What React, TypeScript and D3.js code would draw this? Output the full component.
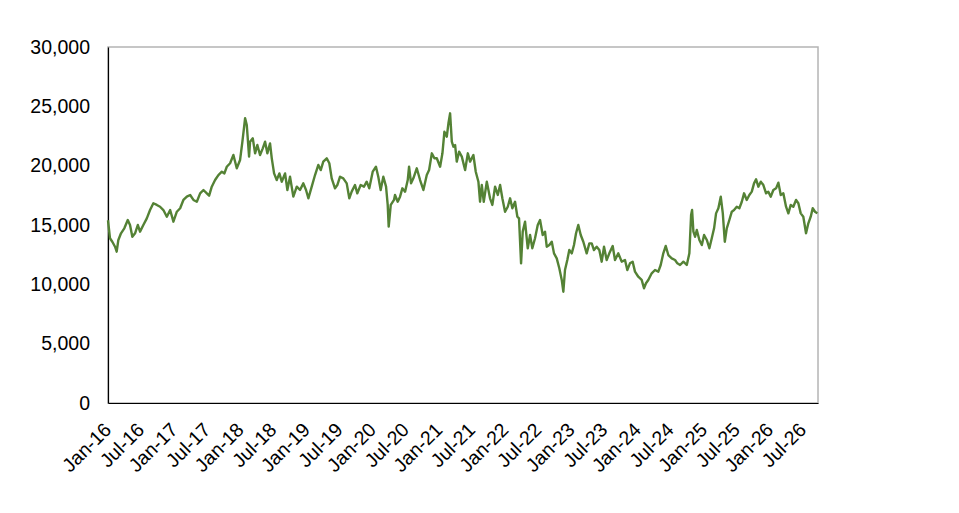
import { useEffect, useRef } from 'react';
import * as d3 from 'd3';

const WIDTH = 959;
const HEIGHT = 513;

// [decimal year, index level]
const SERIES: [number, number][] = [
  [2016.000, 15400], [2016.030, 13880], [2016.065, 13590], [2016.106, 13170], [2016.131, 12750],
  [2016.156, 13740], [2016.196, 14300], [2016.246, 14720], [2016.298, 15420], [2016.332, 15000],
  [2016.367, 14010], [2016.408, 14300], [2016.449, 15000], [2016.483, 14440], [2016.533, 15000],
  [2016.585, 15560], [2016.634, 16260], [2016.684, 16830], [2016.736, 16690], [2016.785, 16540],
  [2016.835, 16260], [2016.887, 15700], [2016.937, 16260], [2016.986, 15280], [2017.038, 16120],
  [2017.088, 16410], [2017.137, 17110], [2017.189, 17390], [2017.239, 17530], [2017.289, 17110],
  [2017.340, 16960], [2017.390, 17670], [2017.440, 17950], [2017.491, 17670], [2017.526, 17470],
  [2017.566, 18230], [2017.616, 18790], [2017.666, 19210], [2017.718, 19490], [2017.757, 19350],
  [2017.793, 19910], [2017.843, 20200], [2017.893, 20900], [2017.944, 19780], [2017.994, 20480],
  [2018.029, 22020], [2018.070, 24000], [2018.095, 23430], [2018.130, 20760], [2018.145, 22020],
  [2018.186, 22300], [2018.221, 21040], [2018.255, 21740], [2018.296, 20900], [2018.337, 21460],
  [2018.372, 22020], [2018.406, 21040], [2018.447, 21880], [2018.473, 20620], [2018.508, 19350],
  [2018.548, 18790], [2018.588, 19350], [2018.624, 18650], [2018.674, 19350], [2018.709, 17950],
  [2018.749, 19070], [2018.799, 17390], [2018.851, 18230], [2018.900, 17950], [2018.950, 18510],
  [2018.991, 17950], [2019.026, 17250], [2019.077, 18230], [2019.127, 19210], [2019.177, 20060],
  [2019.213, 19630], [2019.252, 20340], [2019.304, 20620], [2019.343, 20200], [2019.379, 18930],
  [2019.429, 18090], [2019.464, 18370], [2019.505, 19070], [2019.554, 18930], [2019.606, 18510],
  [2019.645, 17250], [2019.681, 17810], [2019.731, 18370], [2019.766, 17670], [2019.817, 18370],
  [2019.867, 18230], [2019.908, 18650], [2019.947, 18090], [2019.999, 19490], [2020.048, 19910],
  [2020.083, 19070], [2020.119, 17950], [2020.159, 19070], [2020.200, 18230], [2020.225, 16690],
  [2020.240, 14860], [2020.271, 16690], [2020.320, 17110], [2020.335, 17530], [2020.376, 16960],
  [2020.411, 17390], [2020.446, 18090], [2020.487, 17810], [2020.527, 18790], [2020.547, 19910],
  [2020.577, 18510], [2020.612, 18930], [2020.663, 19780], [2020.713, 18790], [2020.763, 17950],
  [2020.814, 19210], [2020.849, 19630], [2020.890, 21040], [2020.929, 20620], [2020.965, 20620],
  [2021.015, 19910], [2021.050, 21040], [2021.080, 22860], [2021.116, 22440], [2021.141, 23570],
  [2021.166, 24410], [2021.192, 22020], [2021.216, 21600], [2021.242, 21740], [2021.267, 20340],
  [2021.302, 21180], [2021.343, 20760], [2021.393, 19630], [2021.434, 21040], [2021.468, 20340],
  [2021.518, 20900], [2021.554, 19490], [2021.594, 18650], [2021.619, 16960], [2021.645, 18370],
  [2021.675, 16960], [2021.721, 18650], [2021.770, 17250], [2021.805, 16690], [2021.846, 18230],
  [2021.887, 17530], [2021.922, 18370], [2021.956, 17250], [2021.997, 16120], [2022.038, 16540],
  [2022.073, 17250], [2022.107, 16410], [2022.148, 16960], [2022.183, 15700], [2022.208, 15560],
  [2022.239, 11770], [2022.264, 14440], [2022.299, 15280], [2022.340, 13040], [2022.375, 14160],
  [2022.409, 13040], [2022.450, 13880], [2022.491, 15000], [2022.526, 15420], [2022.566, 14160],
  [2022.601, 14440], [2022.627, 13170], [2022.666, 13310], [2022.703, 13590], [2022.737, 12610],
  [2022.778, 12190], [2022.817, 11350], [2022.854, 10370], [2022.878, 9380], [2022.903, 11210],
  [2022.938, 12050], [2022.968, 12890], [2023.005, 12610], [2023.039, 13310], [2023.070, 14300],
  [2023.104, 15000], [2023.141, 14160], [2023.180, 13590], [2023.231, 12610], [2023.271, 13450],
  [2023.307, 13450], [2023.341, 12890], [2023.382, 13170], [2023.422, 12890], [2023.458, 11910],
  [2023.493, 13170], [2023.533, 12050], [2023.573, 12610], [2023.624, 13230], [2023.659, 12050],
  [2023.709, 12610], [2023.760, 11910], [2023.810, 12050], [2023.845, 11210], [2023.885, 11770],
  [2023.926, 11910], [2023.961, 11070], [2024.011, 10640], [2024.062, 10370], [2024.097, 9670],
  [2024.127, 10090], [2024.162, 10370], [2024.213, 10930], [2024.263, 11210], [2024.313, 11070],
  [2024.349, 11630], [2024.388, 12610], [2024.425, 13230], [2024.464, 12470], [2024.515, 12190],
  [2024.565, 12050], [2024.600, 11770], [2024.641, 11630], [2024.691, 11910], [2024.742, 11630],
  [2024.781, 12610], [2024.807, 15840], [2024.822, 16260], [2024.842, 14440], [2024.867, 14010],
  [2024.893, 14580], [2024.932, 13740], [2024.969, 13310], [2025.003, 14160], [2025.044, 13740],
  [2025.083, 13040], [2025.119, 13880], [2025.154, 14720], [2025.184, 15980], [2025.219, 16410],
  [2025.255, 17390], [2025.286, 15980], [2025.316, 13590], [2025.346, 14720], [2025.385, 15420],
  [2025.422, 16120], [2025.456, 16260], [2025.497, 16540], [2025.536, 16410], [2025.573, 16960],
  [2025.607, 17670], [2025.648, 17110], [2025.687, 17530], [2025.724, 17810], [2025.758, 18510],
  [2025.789, 18850], [2025.823, 18230], [2025.860, 18650], [2025.899, 18370], [2025.940, 17670],
  [2025.974, 17810], [2026.011, 17390], [2026.050, 17950], [2026.091, 18090], [2026.126, 18570],
  [2026.162, 17530], [2026.201, 17670], [2026.242, 16540], [2026.277, 15980], [2026.313, 16690],
  [2026.352, 16540], [2026.393, 17110], [2026.428, 16830], [2026.464, 15980], [2026.503, 15700],
  [2026.544, 14300], [2026.579, 15140], [2026.615, 15700], [2026.645, 16410], [2026.680, 16120],
  [2026.715, 15980],
];

const Y_TICKS = [0, 5000, 10000, 15000, 20000, 25000, 30000];
const X_TICK_LABELS = [
  'Jan-16', 'Jul-16', 'Jan-17', 'Jul-17', 'Jan-18', 'Jul-18', 'Jan-19', 'Jul-19',
  'Jan-20', 'Jul-20', 'Jan-21', 'Jul-21', 'Jan-22', 'Jul-22', 'Jan-23', 'Jul-23',
  'Jan-24', 'Jul-24', 'Jan-25', 'Jul-25', 'Jan-26', 'Jul-26',
];
const X_START = 2016.0;
const X_END = 2026.725;

const LINE_COLOR = '#548235';
const FONT = '"Liberation Sans", Arial, sans-serif';
const FONT_SIZE = '19.5px';

function yearToDate(y: number): Date {
  const yr = Math.floor(y);
  const start = new Date(yr, 0, 1).getTime();
  const end = new Date(yr + 1, 0, 1).getTime();
  return new Date(start + (y - yr) * (end - start));
}

export default function App() {
  const svgRef = useRef<SVGSVGElement>(null);

  useEffect(() => {
    if (!svgRef.current) return;
    const svg = d3.select(svgRef.current);
    svg.selectAll('*').remove();

    const margin = { top: 47, right: WIDTH - 818, bottom: HEIGHT - 403, left: 108 };
    const innerWidth = WIDTH - margin.left - margin.right;
    const innerHeight = HEIGHT - margin.top - margin.bottom;

    const x = d3.scaleTime()
      .domain([yearToDate(X_START), yearToDate(X_END)])
      .range([0, innerWidth]);
    const y = d3.scaleLinear()
      .domain([0, 30000])
      .range([innerHeight, 0]);

    const g = svg.append('g')
      .attr('transform', `translate(${margin.left},${margin.top})`);

    // marco gris del área de trazado
    g.append('rect')
      .attr('x', 0)
      .attr('y', 0)
      .attr('width', innerWidth)
      .attr('height', innerHeight)
      .attr('fill', 'none')
      .attr('stroke', '#b4b4b4')
      .attr('stroke-width', 1.5);

    // Eje Y
    const yAxis = d3.axisLeft(y)
      .tickValues(Y_TICKS)
      .tickSize(0)
      .tickPadding(18)
      .tickFormat((d) => d3.format(',')(Number(d)));

    const yG = g.append('g').call(yAxis);
    yG.select('.domain').attr('stroke', '#000').attr('stroke-width', 1.2);
    yG.selectAll('text')
      .attr('font-family', FONT)
      .attr('font-size', FONT_SIZE)
      .attr('fill', '#000');

    // Eje X
    const parse = d3.timeParse('%b-%y');
    const tickDates = X_TICK_LABELS.map((l) => parse(l)!);
    const xAxis = d3.axisBottom(x)
      .tickValues(tickDates)
      .tickSize(0)
      .tickFormat((d) => d3.timeFormat('%b-%y')(d as Date));

    const xG = g.append('g')
      .attr('transform', `translate(0,${innerHeight})`)
      .call(xAxis);
    xG.select('.domain').attr('stroke', '#000').attr('stroke-width', 1.2);
    xG.selectAll('text')
      .attr('font-family', FONT)
      .attr('font-size', FONT_SIZE)
      .attr('fill', '#000')
      .attr('text-anchor', 'end')
      .attr('dy', 0)
      .attr('y', 0)
      .attr('transform', 'translate(4,28) rotate(-45)');

    // Línea de la serie
    const line = d3.line<[number, number]>()
      .x((d) => x(yearToDate(d[0])))
      .y((d) => y(d[1]))
      .curve(d3.curveLinear);

    g.append('path')
      .datum(SERIES)
      .attr('d', line)
      .attr('fill', 'none')
      .attr('stroke', LINE_COLOR)
      .attr('stroke-width', 2.4)
      .attr('stroke-linejoin', 'round');
  }, []);

  return (
    <svg
      ref={svgRef}
      width={WIDTH}
      height={HEIGHT}
      style={{ position: 'absolute', left: 0, top: 0, background: '#fff' }}
    />
  );
}
